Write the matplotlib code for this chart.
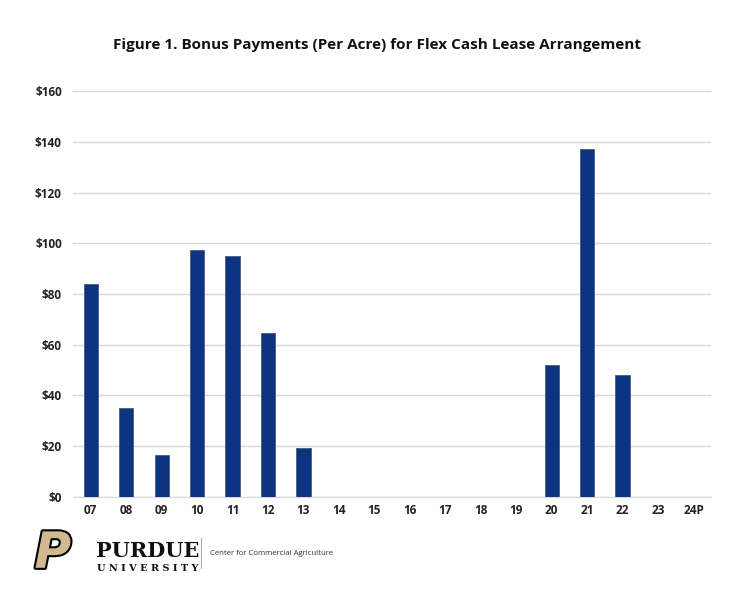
import matplotlib.pyplot as plt
import matplotlib.patheffects as pe

years = ['07', '08', '09', '10', '11', '12', '13', '14', '15', '16', '17',
         '18', '19', '20', '21', '22', '23', '24P']
bonus = [84, 35, 16.5, 97.5, 95, 64.5, 19.5, 0, 0, 0, 0,
         0, 0, 52, 137, 48, 0, 0]
yticks = [0, 20, 40, 60, 80, 100, 120, 140, 160]
ylabels = ['$' + str(v) for v in yticks]

plt.rcParams['font.family'] = ['Open Sans', 'DejaVu Sans']

fig = plt.figure(figsize=(7.5, 6), dpi=100)
ax = fig.add_axes([0.0973, 0.1717, 0.851, 0.6766])

xs = list(range(len(years)))
ax.bar(xs, bonus, width=0.4, color='#0d3383', edgecolor='#4a5a7a', linewidth=0.6, zorder=3)

ax.set_xlim(-0.5, len(years) - 0.5)
ax.set_ylim(0, 160)
ax.set_yticks(yticks)
ax.set_yticklabels(ylabels)
ax.set_xticks(xs)
ax.set_xticklabels(years)
ax.yaxis.grid(True, color='#d9d9d9', linewidth=1, zorder=0)
for s in ['top', 'right', 'left']:
    ax.spines[s].set_visible(False)
ax.spines['bottom'].set_color('#d9d9d9')
ax.tick_params(length=0, labelsize=8.5, colors='#222222')
ax.tick_params(axis='x', pad=5)
ax.tick_params(axis='y', pad=8)
for lbl in ax.get_xticklabels() + ax.get_yticklabels():
    lbl.set_fontweight('bold')

fig.text(0.503, 0.925, 'Figure 1. Bonus Payments (Per Acre) for Flex Cash Lease Arrangement',
         ha='center', va='center', fontsize=11, fontweight='bold', color='#111111')

# Purdue logo (text version)
fig.text(0.046, 0.077, 'P', fontsize=36, fontweight='bold', style='italic', family='DejaVu Sans',
         color='#cfb991', ha='left', va='center',
         path_effects=[pe.withStroke(linewidth=3, foreground='black')])
fig.text(0.128, 0.082, 'PURDUE', fontsize=15, fontweight='bold', family='DejaVu Serif',
         color='#111111', ha='left', va='center')
fig.text(0.129, 0.052, 'U N I V E R S I T Y', fontsize=7, fontweight='bold', family='DejaVu Serif',
         color='#111111', ha='left', va='center')
fig.add_artist(plt.Line2D([0.2675, 0.2675], [0.053, 0.103], color='#aaaaaa', linewidth=0.8))
fig.text(0.28, 0.077, 'Center for Commercial Agriculture', fontsize=5.6,
         color='#333333', ha='left', va='center')

fig.savefig('out.png', dpi=100)
